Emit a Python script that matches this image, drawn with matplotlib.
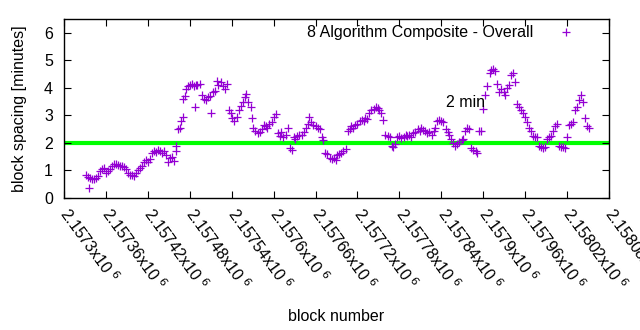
import matplotlib
matplotlib.use("Agg")
import matplotlib.pyplot as plt
from matplotlib.ticker import FixedLocator, FixedFormatter

plt.rcParams['font.family'] = ['Liberation Sans', 'DejaVu Sans']

block_base = 2157300
block_offset = [
    31, 34, 36, 37, 40, 43, 46, 49, 51, 54, 57, 60, 63, 66, 69, 71, 74, 77, 80, 83,
    86, 89, 91, 94, 97, 100, 103, 106, 109, 111, 114, 117, 120, 123, 126, 129, 131, 134, 137, 140,
    143, 146, 149, 151, 154, 157, 160, 161, 163, 166, 167, 170, 171, 173, 174, 177, 180, 183, 186, 187,
    189, 191, 194, 197, 200, 203, 206, 209, 211, 213, 216, 219, 221, 224, 227, 230, 233, 236, 239, 241,
    244, 247, 250, 253, 256, 259, 261, 264, 267, 269, 271, 274, 277, 280, 283, 286, 289, 291, 294, 297,
    300, 303, 306, 309, 311, 314, 317, 320, 323, 326, 329, 331, 334, 337, 340, 343, 346, 349, 351, 354,
    357, 360, 363, 366, 369, 371, 374, 377, 380, 383, 386, 389, 391, 394, 397, 400, 403, 406, 409, 411,
    414, 417, 420, 423, 426, 429, 431, 434, 437, 440, 443, 446, 449, 451, 454, 457, 460, 463, 466, 469,
    471, 474, 477, 480, 483, 486, 489, 491, 494, 497, 500, 503, 506, 509, 511, 514, 517, 520, 523, 526,
    529, 531, 534, 537, 540, 543, 546, 549, 551, 554, 557, 560, 563, 566, 569, 571, 574, 577, 580, 583,
    586, 589, 591, 594, 597, 600, 603, 606, 609, 611, 614, 617, 620, 623, 626, 629, 631, 634, 637, 640,
    643, 646, 649, 651, 654, 657, 660, 663, 666, 669, 671, 674, 677, 680, 683, 686, 689, 691, 694, 697,
    700, 703, 706, 709, 711, 714, 717, 720, 723, 726, 729, 731, 734, 737, 740, 743, 746, 749, 751,
]
spacing = [
    0.83, 0.75, 0.35, 0.72, 0.68, 0.70, 0.72, 0.80, 0.98, 1.05, 1.10, 0.92, 0.98, 1.05, 1.15, 1.22, 1.25, 1.20, 1.15, 1.18,
    1.12, 1.05, 0.90, 0.82, 0.85, 0.80, 0.90, 1.00, 1.08, 1.18, 1.30, 1.38, 1.32, 1.40, 1.62, 1.70, 1.68, 1.75, 1.72, 1.65,
    1.70, 1.55, 1.30, 1.45, 1.50, 1.35, 1.70, 1.90, 2.50, 2.55, 2.80, 2.95, 3.60, 3.70, 3.95, 4.05, 4.10, 4.15, 4.05, 3.30,
    4.10, 4.12, 4.15, 3.75, 3.60, 3.55, 3.65, 3.70, 3.07, 3.85, 3.90, 4.26, 4.10, 4.20, 4.05, 3.95, 4.15, 3.20, 3.10, 2.90,
    2.80, 2.95, 3.20, 3.35, 3.50, 3.65, 3.78, 3.50, 3.30, 2.90, 2.55, 2.45, 2.35, 2.40, 2.50, 2.65, 2.60, 2.55, 2.70, 2.75,
    2.95, 3.05, 2.35, 2.25, 2.40, 2.20, 2.30, 2.55, 1.80, 1.75, 2.20, 2.15, 2.25, 2.30, 2.28, 2.40, 2.55, 2.70, 2.95, 2.75,
    2.65, 2.60, 2.55, 2.50, 2.20, 2.10, 1.65, 1.60, 1.45, 1.40, 1.45, 1.38, 1.55, 1.60, 1.65, 1.70, 1.78, 2.45, 2.50, 2.60,
    2.55, 2.65, 2.70, 2.80, 2.85, 2.80, 2.90, 2.88, 3.10, 3.20, 3.25, 3.30, 3.28, 3.20, 3.10, 2.85, 2.30, 2.25, 2.20, 1.90,
    1.85, 1.95, 2.20, 2.25, 2.18, 2.22, 2.28, 2.25, 2.30, 2.22, 2.35, 2.40, 2.50, 2.45, 2.55, 2.48, 2.42, 2.35, 2.40, 2.30,
    2.45, 2.55, 2.80, 2.85, 2.80, 2.75, 2.50, 2.40, 2.30, 2.15, 2.00, 1.90, 1.95, 2.05, 2.10, 2.15, 2.45, 2.55, 2.50, 1.80,
    1.75, 1.70, 1.65, 2.45, 2.45, 3.25, 3.75, 4.05, 4.55, 4.65, 4.70, 4.60, 4.15, 3.85, 3.95, 3.85, 3.75, 4.00, 4.10, 4.45,
    4.55, 4.20, 3.40, 3.30, 3.20, 3.10, 2.95, 2.75, 2.55, 2.45, 2.25, 2.20, 2.20, 1.90, 1.85, 1.80, 1.85, 2.15, 2.20, 2.25,
    2.45, 2.60, 2.70, 1.90, 1.85, 1.85, 1.80, 2.20, 2.65, 2.70, 2.75, 3.20, 3.30, 3.55, 3.75, 3.50, 2.90, 2.60, 2.55,
]

x_ticks = [2157300 + 60 * i for i in range(14)]
x_tick_labels = ["2.1573", "2.15736", "2.15742", "2.15748", "2.15754", "2.1576", "2.15766",
                 "2.15772", "2.15778", "2.15784", "2.1579", "2.15796", "2.15802", "2.15808"]
y_ticks = [0, 1, 2, 3, 4, 5, 6]
threshold = 2.0
label_block = 2157847
label_value = 3.45

blocks = [block_base + o for o in block_offset]

FS = 11.5
fig = plt.figure(figsize=(6.4, 3.3), dpi=100)
ax = fig.add_axes([0.1, 0.4, 0.8516, 0.5424])

ax.axhline(threshold, color='#00ff00', lw=3.0, zorder=1)
ax.plot(blocks, spacing, linestyle='none', marker='+', color='#9400d3',
        markersize=5.5, markeredgewidth=0.9, label='8 Algorithm Composite - Overall', zorder=2)

ax.set_xlim(2157300, 2158080)
ax.set_ylim(0, 6.5)
ax.xaxis.set_major_locator(FixedLocator(x_ticks))
ax.xaxis.set_major_formatter(FixedFormatter([l + "x10$^{\\ 6}$" for l in x_tick_labels]))
ax.set_yticks(y_ticks)
ax.tick_params(direction='in', length=5, width=0.8, top=True, right=True,
               labelsize=FS, colors='black')
ax.tick_params(axis='y', pad=8)
ax.tick_params(axis='x', pad=9)
for lab in ax.get_xticklabels():
    lab.set_rotation(-54)
    lab.set_ha('left')
    lab.set_va('center')
    lab.set_rotation_mode('anchor')
for s in ax.spines.values():
    s.set_linewidth(1.0)

ax.text(label_block, label_value, '2 min', fontsize=FS, ha='left', va='center')
ax.set_xlabel('block number', fontsize=FS, labelpad=11)
ax.set_ylabel('block spacing [minutes]', fontsize=FS, labelpad=12)

ax.legend(loc='upper right', bbox_to_anchor=(0.962, 1.0), frameon=False,
          markerfirst=False, fontsize=FS, handlelength=2.0, borderaxespad=0.0,
          handletextpad=1.06, borderpad=0.4)

fig.savefig('out.png', dpi=100)
